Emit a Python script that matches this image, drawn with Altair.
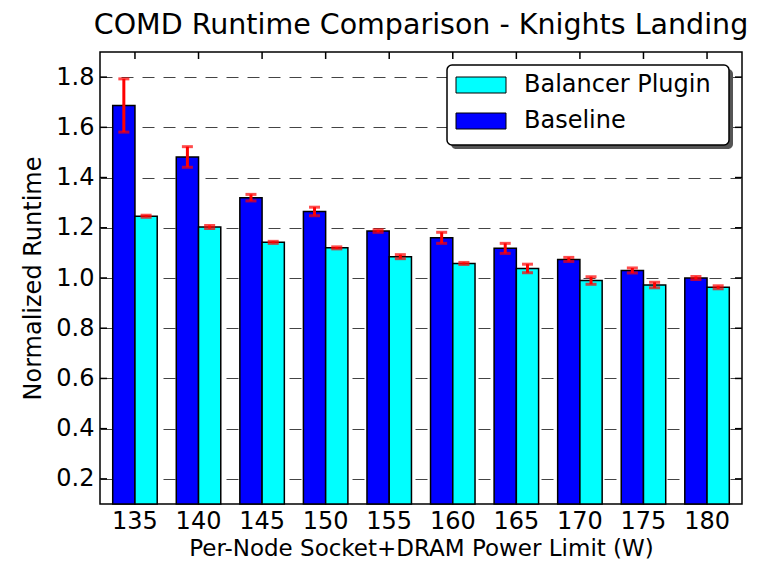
import altair as alt
import pandas as pd

# ---- data ----
limits = [135, 140, 145, 150, 155, 160, 165, 170, 175, 180]
baseline = [1.687, 1.482, 1.320, 1.265, 1.187, 1.160, 1.118, 1.074, 1.030, 1.000]
baseline_err = [0.106, 0.041, 0.013, 0.017, 0.005, 0.022, 0.020, 0.008, 0.010, 0.006]
balancer = [1.246, 1.203, 1.142, 1.120, 1.085, 1.058, 1.038, 0.990, 0.972, 0.963]
balancer_err = [0.004, 0.006, 0.004, 0.004, 0.008, 0.004, 0.017, 0.015, 0.011, 0.006]
series_names = ["Baseline", "Balancer Plugin"]
series_colors = ["#0000ff", "#00ffff"]
legend_labels = ["Balancer Plugin", "Baseline"]
legend_colors = ["#00ffff", "#0000ff"]
y_ticks = [0.2, 0.4, 0.6, 0.8, 1.0, 1.2, 1.4, 1.6, 1.8]
limit_labels = [str(v) for v in limits]

rows = []
for i, lim in enumerate(limit_labels):
    rows.append(dict(limit=lim, series="Baseline", value=baseline[i],
                     lo=baseline[i] - baseline_err[i], hi=baseline[i] + baseline_err[i]))
    rows.append(dict(limit=lim, series="Balancer Plugin", value=balancer[i],
                     lo=balancer[i] - balancer_err[i], hi=balancer[i] + balancer_err[i]))
df = pd.DataFrame(rows)
ytick_df = pd.DataFrame({"y": y_ticks})
xtick_df = pd.DataFrame({"limit": limit_labels})
one = pd.DataFrame({"k": [0]})

W, H = 642, 452
FONT = "DejaVu Sans"

x_enc = alt.X(
    "limit:N", sort=limit_labels,
    scale=alt.Scale(paddingInner=0.3, paddingOuter=0.2),
    axis=alt.Axis(title="Per-Node Socket+DRAM Power Limit (W)", labelAngle=0,
                  ticks=False, tickSize=0, domain=False, grid=False,
                  labelPadding=5, titlePadding=4.3, titleFontSize=23),
)
xo_enc = alt.XOffset("series:N", sort=series_names,
                     scale=alt.Scale(paddingInner=0, paddingOuter=0))
y_scale = alt.Scale(domain=[0.1, 1.9], zero=False, nice=False)
y_axis = alt.Axis(title="Normalized Runtime", values=y_ticks, format=".1f",
                  grid=True, gridDash=[12, 9], gridColor="#444", gridWidth=1,
                  ticks=False, tickSize=0, domain=False,
                  labelPadding=6, titlePadding=10)

bars = alt.Chart(df).mark_bar(stroke="black", strokeWidth=1.5).encode(
    x=x_enc, xOffset=xo_enc,
    y=alt.Y("value:Q", scale=y_scale, axis=y_axis),
    y2=alt.Y2(datum=0.1),
    color=alt.Color("series:N", scale=alt.Scale(domain=series_names, range=series_colors),
                    legend=None),
)

err = alt.Chart(df).mark_rule(color="#ff0000", strokeWidth=3).encode(
    x=x_enc, xOffset=xo_enc,
    y=alt.Y("lo:Q", scale=y_scale, axis=y_axis), y2="hi:Q",
)
cap_lo = alt.Chart(df).mark_tick(color="#ff0000", thickness=3, size=11).encode(
    x=x_enc, xOffset=xo_enc, y=alt.Y("lo:Q", scale=y_scale, axis=y_axis),
)
cap_hi = alt.Chart(df).mark_tick(color="#ff0000", thickness=3, size=11).encode(
    x=x_enc, xOffset=xo_enc, y=alt.Y("hi:Q", scale=y_scale, axis=y_axis),
)

# inward ticks (matplotlib style)
left_ticks = alt.Chart(ytick_df).mark_rule(color="black", strokeWidth=1.5).encode(
    y=alt.Y("y:Q", scale=y_scale, axis=y_axis), x=alt.value(0), x2=alt.value(7))
right_ticks = alt.Chart(ytick_df).mark_rule(color="black", strokeWidth=1.5).encode(
    y=alt.Y("y:Q", scale=y_scale, axis=y_axis), x=alt.value(W - 7), x2=alt.value(W))
top_ticks = alt.Chart(xtick_df).mark_rule(color="black", strokeWidth=1.5).encode(
    x=x_enc, y=alt.value(0), y2=alt.value(7))

# legend with shadow
LX0, LX1, LY0, LY1 = 347, 629, 13, 93
shadow = alt.Chart(one).mark_rect(fill="#555555", cornerRadius=5).encode(
    x=alt.value(LX0 + 4), x2=alt.value(LX1 + 4), y=alt.value(LY0 + 4), y2=alt.value(LY1 + 4))
box = alt.Chart(one).mark_rect(fill="white", stroke="black", strokeWidth=1.5, cornerRadius=5).encode(
    x=alt.value(LX0), x2=alt.value(LX1), y=alt.value(LY0), y2=alt.value(LY1))
legend_layers = [shadow, box]
for i, (lab, col) in enumerate(zip(legend_labels, legend_colors)):
    cy = 33 + i * 36
    legend_layers.append(
        alt.Chart(one).mark_rect(fill=col, stroke="black", strokeWidth=1).encode(
            x=alt.value(356), x2=alt.value(406), y=alt.value(cy - 8), y2=alt.value(cy + 8)))
    legend_layers.append(
        alt.Chart(one).mark_text(text=lab, align="left", baseline="middle", fontSize=24,
                                 font=FONT, color="black").encode(
            x=alt.value(424), y=alt.value(cy)))

chart = alt.layer(bars, err, cap_lo, cap_hi, left_ticks, right_ticks, top_ticks,
                  *legend_layers).properties(
    width=W, height=H,
    title="COMD Runtime Comparison - Knights Landing",
    autosize=alt.AutoSizeParams(type="none"),
    padding={"left": 92, "top": 44, "right": 14, "bottom": 57},
    background="white",
).configure_view(
    stroke="black", strokeWidth=1.5
).configure_axis(
    labelFont=FONT, titleFont=FONT, labelFontSize=24, titleFontSize=24,
    labelColor="black", titleColor="black", titleFontWeight="normal",
).configure_title(
    font=FONT, fontSize=28.5, fontWeight="normal", color="black", anchor="middle", offset=12,
)

chart.save("out.html", embed_options={"renderer": "svg", "actions": False})
